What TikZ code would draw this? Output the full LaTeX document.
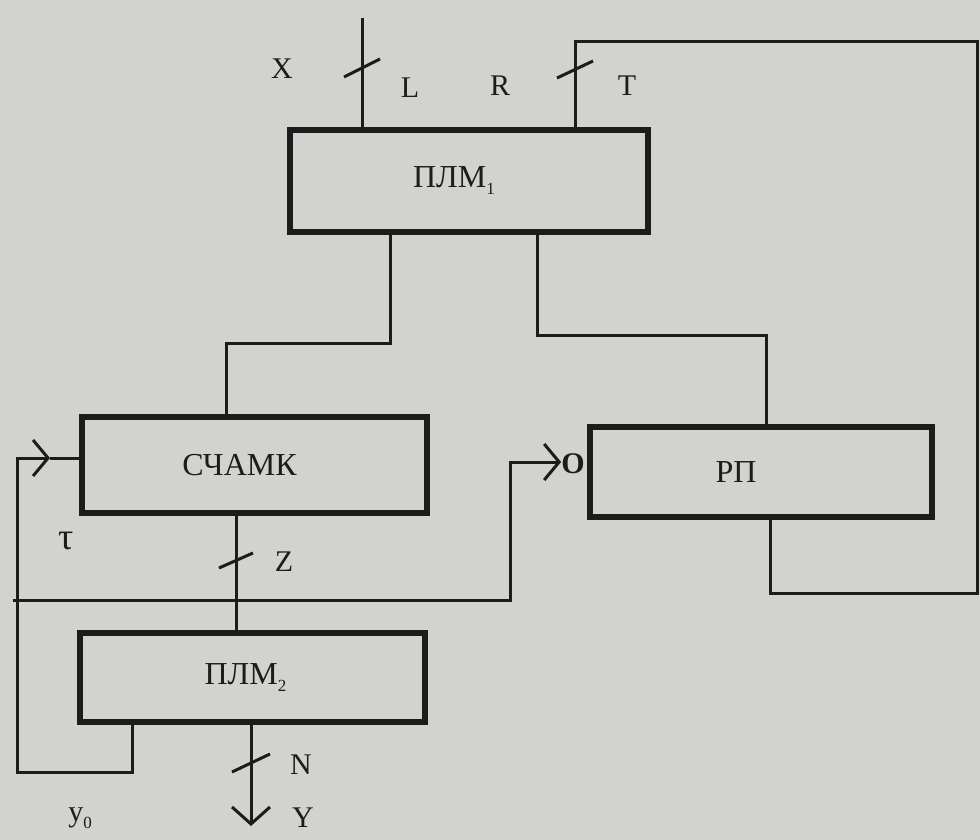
\documentclass[tikz,border=0pt]{standalone}
\usepackage{fontspec}
\setmainfont{Liberation Serif}
\usetikzlibrary{arrows.meta}
\definecolor{paper}{RGB}{210,210,207}
\definecolor{ink}{RGB}{28,28,28}
\newcommand\lowidx[1]{\raisebox{-0.22em}{\fontsize{17}{17}\selectfont #1}}
\tikzset{
  blk/.style={draw=ink, line width=5.5pt, rectangle, inner sep=0pt,
    font=\fontsize{32}{32}\selectfont, text=ink},
  wire/.style={draw=ink, line width=3pt},
  lbl/.style={font=\fontsize{30}{30}\selectfont, text=ink, inner sep=0pt},
  barb/.style={-{Straight Barb[length=15pt,width=36pt]}}
}
\begin{document}
\begin{tikzpicture}[x=1pt,y=-1pt]
\useasboundingbox (0,0) rectangle (980,840);
\fill[paper] (0,0) rectangle (980,840);
\clip (0,0) rectangle (980,840);

% blocks
\node[blk, minimum width=358pt, minimum height=102pt] (plm1) at (469,181)
  {\hspace*{-30pt}ПЛМ\lowidx{1}};
\node[blk, minimum width=345pt, minimum height=96pt] (schamk) at (254.5,465)
  {\hspace*{-30pt}СЧАМК};
\node[blk, minimum width=342pt, minimum height=90pt] (rp) at (761,472)
  {\hspace*{-50pt}РП};
\node[blk, minimum width=345pt, minimum height=89pt] (plm2) at (252.5,677.5)
  {\hspace*{-14pt}ПЛМ\lowidx{2}};

% inverted input of the register
\node[text=ink, inner sep=0pt, font=\fontsize{30}{30}\selectfont\bfseries] (inv) at (573,464) {O};

% routing points
\coordinate (xtop) at (362,18);
\coordinate (xtick) at (362,68);
\coordinate (rin) at (575,42);
\coordinate (rtick) at (575,69);
\coordinate (ne) at (977,42);
\coordinate (se) at (977,593);
\coordinate (rpo) at (770,593);
\coordinate (a1) at (390,343);
\coordinate (a2) at (226,343);
\coordinate (b1) at (537,335);
\coordinate (b2) at (766,335);
\coordinate (fb1) at (132,772);
\coordinate (fb2) at (17,772);
\coordinate (fb3) at (17,458);
\coordinate (fbm) at (50,458);
\coordinate (h0) at (13,600);
\coordinate (h1) at (510,600);
\coordinate (h2) at (510,462);
\coordinate (zx) at (236,0);
\coordinate (ztick) at (236,560);
\coordinate (nout) at (251,826);
\coordinate (ntick) at (251,763);

% connectors
\draw[wire] (xtop) -- (xtop |- plm1.north);
\draw[wire] (rpo |- rp.south) -- (rpo) -- (se) -- (ne) -- (rin) -- (rin |- plm1.north);
\draw[wire] (a1 |- plm1.south) -- (a1) -- (a2) -- (a2 |- schamk.north);
\draw[wire] (b1 |- plm1.south) -- (b1) -- (b2) -- (b2 |- rp.north);
\draw[wire, barb] (fb1 |- plm2.south) -- (fb1) -- (fb2) -- (fb3) -- (fbm);
\draw[wire] (fbm) -- (fbm -| schamk.west);
\draw[wire, barb] (h0) -- (h1) -- (h2) -- (h2 -| inv.west);
\draw[wire] (zx |- schamk.south) -- (zx |- plm2.north);
\draw[wire, -{Straight Barb[length=17pt,width=38pt]}] (nout |- plm2.south) -- (nout);

% bus width ticks
\draw[wire] (xtick) ++(-18,9) -- ++(36,-18);
\draw[wire] (rtick) ++(-18,9) -- ++(36,-17);
\draw[wire] (ztick) ++(-17,8) -- ++(34,-15);
\draw[wire] (ntick) ++(-19,9) -- ++(38,-18);

% signal names
\node[lbl] (lx) at (282,69) {X};
\node[lbl] (ll) at (410,88) {L};
\node[lbl] (lr) at (500,86) {R};
\node[lbl] (lt) at (627,86) {T};
\node[lbl, font=\fontsize{38}{38}\selectfont] (ltau) at (66,541) {τ};
\node[lbl] (lz) at (284,562) {Z};
\node[lbl] (ln) at (301,765) {N};
\node[lbl] (ly) at (303,818) {Y};
\node[lbl] (ly0) at (80,818) {y\lowidx{0}};
\end{tikzpicture}
\end{document}
